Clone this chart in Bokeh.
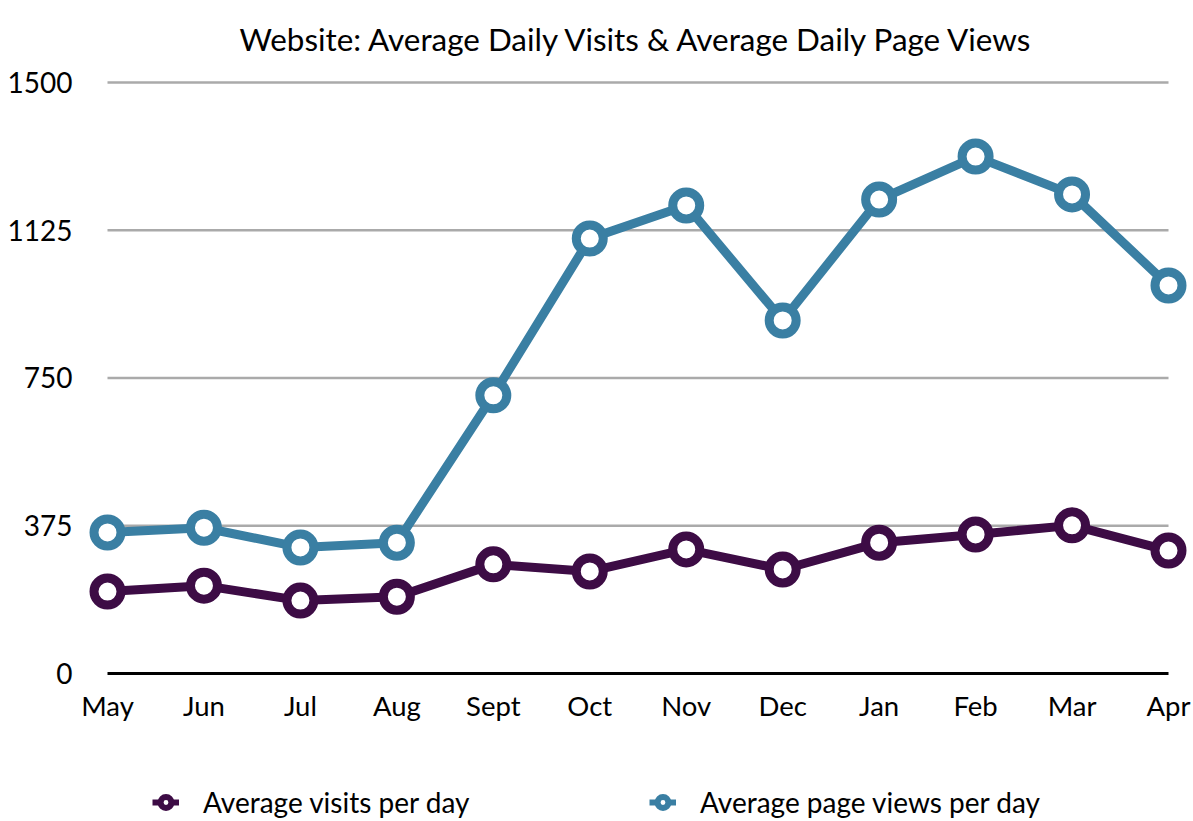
from bokeh.plotting import figure
from bokeh.layouts import column
from bokeh.models import Range1d, FixedTicker, Legend, LegendItem, ColumnDataSource
from bokeh.embed import file_html
from bokeh.resources import INLINE

months = ["May", "Jun", "Jul", "Aug", "Sept", "Oct", "Nov", "Dec", "Jan", "Feb", "Mar", "Apr"]
visits = [208, 223, 185, 195, 277, 259, 315, 264, 332, 353, 376, 312]
page_views = [358, 370, 320, 332, 706, 1104, 1188, 896, 1203, 1312, 1216, 985]
y_ticks = [0, 375, 750, 1125, 1500]
series_names = ["Average visits per day", "Average page views per day"]
title_text = "Website: Average Daily Visits & Average Daily Page Views"

FONT = "Lato"
BLUE = "#3a7fa3"
PURPLE = "#3d0c45"

x = list(range(len(months)))

p = figure(width=1192, height=759, output_backend="svg", toolbar_location=None,
           x_range=Range1d(-0.2592, 11.2488), y_range=Range1d(-10.15, 1520.3),
           min_border_left=82, min_border_right=0, min_border_top=74, min_border_bottom=82)
p.outline_line_color = None
p.xgrid.visible = False
p.ygrid.visible = False

p.title.text = title_text
p.title.text_font = FONT
p.title.text_font_size = "31.4px"
p.title.text_font_style = "normal"
p.title.align = "left"
p.title.offset = 157
p.title.standoff = 34
p.title.text_color = "black"

# grid lines spanning first to last month
grid_src = ColumnDataSource(dict(x0=[x[0]] * 4, x1=[x[-1]] * 4, y=y_ticks[1:]))
p.segment(x0="x0", x1="x1", y0="y", y1="y", source=grid_src, line_color="#aaaaaa", line_width=2.5)
p.segment(x0=[x[0]], x1=[x[-1]], y0=[y_ticks[0]], y1=[y_ticks[0]], line_color="black", line_width=3)

p.line(x, page_views, line_color=BLUE, line_width=9)
p.scatter(x, page_views, size=27, fill_color="white", line_color=BLUE, line_width=9)
p.line(x, visits, line_color=PURPLE, line_width=9)
p.scatter(x, visits, size=27, fill_color="white", line_color=PURPLE, line_width=9)

# axes
p.yaxis.ticker = FixedTicker(ticks=y_ticks)
p.yaxis.axis_line_color = None
p.yaxis.major_tick_line_color = None
p.yaxis.minor_tick_line_color = None
p.yaxis.major_tick_out = 0
p.yaxis.major_tick_in = 0
p.yaxis.minor_tick_out = 0
p.yaxis.major_label_text_font = FONT
p.yaxis.major_label_text_font_size = "28px"
p.yaxis.major_label_text_color = "black"
p.yaxis.major_label_standoff = 10

p.xaxis.ticker = FixedTicker(ticks=x)
p.xaxis.major_label_overrides = {i: m for i, m in enumerate(months)}
p.xaxis.axis_line_color = None
p.xaxis.major_tick_line_color = None
p.xaxis.minor_tick_line_color = None
p.xaxis.major_tick_out = 0
p.xaxis.major_tick_in = 0
p.xaxis.minor_tick_out = 0
p.xaxis.major_label_text_font = FONT
p.xaxis.major_label_text_font_size = "27.5px"
p.xaxis.major_label_text_color = "black"
p.xaxis.major_label_standoff = 11

# legend strip: a small figure holding only the legend
lg = figure(width=1192, height=61, output_backend="svg", toolbar_location=None,
            x_axis_type=None, y_axis_type=None, x_range=Range1d(0, 1), y_range=Range1d(0, 1),
            min_border_left=0, min_border_right=0, min_border_top=0, min_border_bottom=0)
lg.outline_line_color = None
lg.xgrid.visible = False
lg.ygrid.visible = False
off = ColumnDataSource(dict(x=[-5, -6], y=[-5, -6]))
lvl = lg.line("x", "y", source=off, line_color=PURPLE, line_width=6)
lv = lg.scatter("x", "y", source=off, fill_color="white", line_color=PURPLE, line_width=6)
lpl = lg.line("x", "y", source=off, line_color=BLUE, line_width=6)
lp = lg.scatter("x", "y", source=off, fill_color="white", line_color=BLUE, line_width=6)
legend = Legend(items=[LegendItem(label=series_names[0], renderers=[lvl, lv]),
                       LegendItem(label=series_names[1], renderers=[lpl, lp])],
                orientation="horizontal", location=(70, 0),
                glyph_width=27, glyph_height=36, label_standoff=24, label_width=446,
                spacing=0, padding=0, margin=0,
                label_text_font=FONT, label_text_font_size="28px", label_text_color="black",
                background_fill_alpha=0, border_line_alpha=0)
lg.add_layout(legend, "center")

layout = column(p, lg, spacing=0)
open("out.html", "w").write(file_html(layout, INLINE))
